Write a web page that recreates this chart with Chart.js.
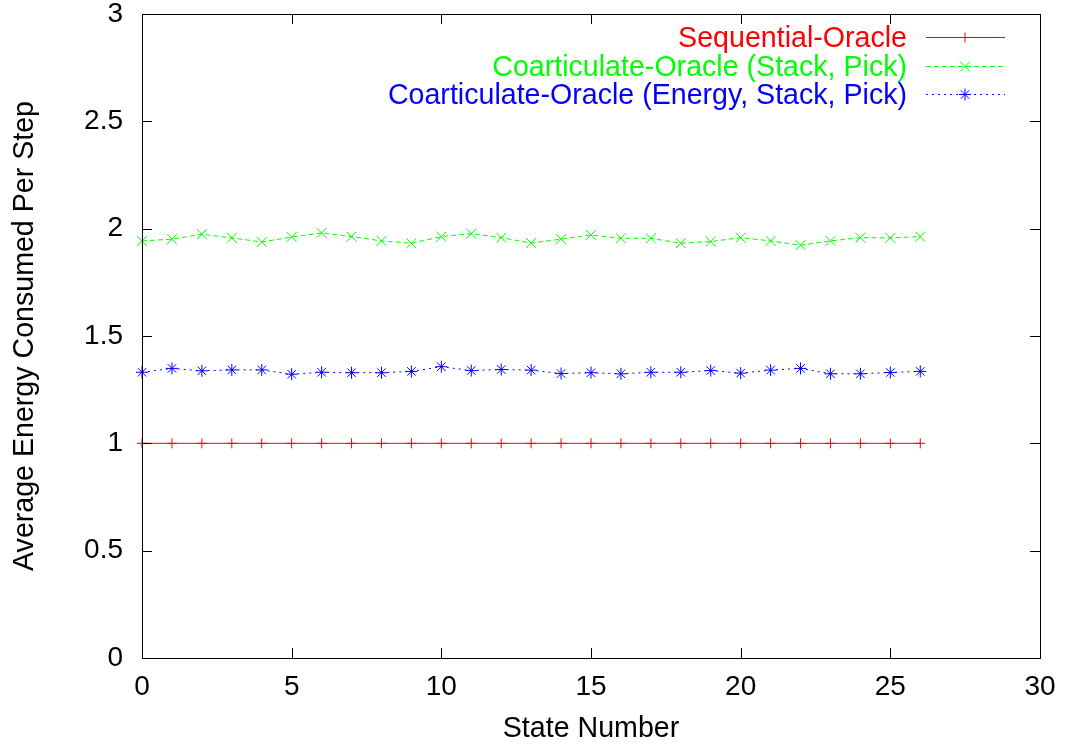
<!DOCTYPE html>
<html>
<head>
<meta charset="utf-8">
<title>Average Energy Consumed Per Step</title>
<script src="https://cdn.jsdelivr.net/npm/chart.js@4.4.1/dist/chart.umd.min.js"></script>
<style>
  html, body { margin: 0; padding: 0; background: #ffffff; }
  #wrap { width: 1068px; height: 748px; }
</style>
</head>
<body>
<div id="wrap"><canvas id="c" width="1068" height="748"></canvas></div>
<script>
// State numbers along the x axis
const stateNumbers = [0, 1, 2, 3, 4, 5, 6, 7, 8, 9, 10, 11, 12, 13, 14, 15, 16, 17, 18, 19, 20, 21, 22, 23, 24, 25, 26];

// Average energy consumed per step for each policy
const sequentialOracle = [1, 1, 1, 1, 1, 1, 1, 1, 1, 1, 1, 1, 1, 1, 1, 1, 1, 1, 1, 1, 1, 1, 1, 1, 1, 1, 1];
const coartStackPick = [1.943, 1.951, 1.974, 1.957, 1.938, 1.961, 1.980, 1.963, 1.943, 1.932, 1.963, 1.977, 1.958, 1.933,
                        1.951, 1.971, 1.955, 1.955, 1.932, 1.940, 1.958, 1.943, 1.923, 1.943, 1.958, 1.957, 1.963];
const coartEnergyStackPick = [1.331, 1.349, 1.338, 1.342, 1.342, 1.322, 1.331, 1.329, 1.329, 1.335, 1.357, 1.339, 1.344, 1.341,
                              1.325, 1.329, 1.324, 1.331, 1.331, 1.339, 1.327, 1.341, 1.349, 1.324, 1.324, 1.330, 1.335];

// Series names
const seriesNames = [
  'Sequential-Oracle',
  'Coarticulate-Oracle (Stack, Pick)',
  'Coarticulate-Oracle (Energy, Stack, Pick)'
];

// Axis ticks
const xTicks = [0, 5, 10, 15, 20, 25, 30];
const yTicks = [0, 0.5, 1, 1.5, 2, 2.5, 3];

const FONT = '"Liberation Sans", Arial, Helvetica, sans-serif';

function toPoints(values) {
  return stateNumbers.map((s, i) => ({ x: s, y: values[i] }));
}

const seriesStyles = [
  { color: '#ff0000', dash: [], pointStyle: 'cross', radius: 5 },
  { color: '#00ff00', dash: [5, 3], pointStyle: 'crossRot', radius: 7 },
  { color: '#0000ff', dash: [2, 4], pointStyle: 'star', radius: 6 }
];
const seriesValues = [sequentialOracle, coartStackPick, coartEnergyStackPick];

const datasets = seriesValues.map((vals, i) => ({
  label: seriesNames[i],
  data: toPoints(vals),
  borderColor: seriesStyles[i].color,
  backgroundColor: seriesStyles[i].color,
  borderWidth: 1,
  borderDash: seriesStyles[i].dash,
  pointStyle: seriesStyles[i].pointStyle,
  pointRadius: seriesStyles[i].radius,
  pointBorderWidth: 1,
  pointBorderColor: seriesStyles[i].color,
  pointBackgroundColor: seriesStyles[i].color,
  tension: 0,
  clip: false
}));

// Draws a legend marker of the given style
function drawMarker(ctx, style, x, y, r) {
  ctx.beginPath();
  if (style === 'cross' || style === 'star') {
    ctx.moveTo(x - r, y); ctx.lineTo(x + r, y);
    ctx.moveTo(x, y - r); ctx.lineTo(x, y + r);
  }
  if (style === 'crossRot' || style === 'star') {
    const d = r * Math.SQRT1_2;
    ctx.moveTo(x - d, y - d); ctx.lineTo(x + d, y + d);
    ctx.moveTo(x - d, y + d); ctx.lineTo(x + d, y - d);
  }
  ctx.stroke();
}

// Frame, inward tick marks on all four sides, and the key in the top right corner
const framePlugin = {
  id: 'frame',
  afterDatasetsDraw(chart) {
    const { ctx, chartArea: a, scales } = chart;
    const len = 10;
    ctx.save();
    ctx.strokeStyle = '#000000';
    ctx.lineWidth = 1;
    ctx.setLineDash([]);
    ctx.beginPath();
    xTicks.forEach(v => {
      const px = Math.round(scales.x.getPixelForValue(v)) + 0.5;
      ctx.moveTo(px, a.bottom); ctx.lineTo(px, a.bottom - len);
      ctx.moveTo(px, a.top); ctx.lineTo(px, a.top + len);
    });
    yTicks.forEach(v => {
      const py = Math.round(scales.y.getPixelForValue(v)) + 0.5;
      ctx.moveTo(a.left, py); ctx.lineTo(a.left + len, py);
      ctx.moveTo(a.right, py); ctx.lineTo(a.right - len, py);
    });
    ctx.stroke();
    ctx.strokeRect(Math.round(a.left) + 0.5, Math.round(a.top) + 0.5,
                   Math.round(a.right - a.left), Math.round(a.bottom - a.top));

    // key
    const textRight = 907;
    const lineX0 = 926, lineX1 = 1005, markX = 965;
    const baselines = [47, 75.5, 104];
    ctx.font = '28.6px ' + FONT;
    ctx.textAlign = 'right';
    ctx.textBaseline = 'alphabetic';
    seriesNames.forEach((name, i) => {
      const st = seriesStyles[i];
      const yb = baselines[i];
      const ym = Math.round(yb - 10) + 0.5;
      ctx.fillStyle = st.color;
      ctx.fillText(name, textRight, yb);
      ctx.strokeStyle = st.color;
      ctx.lineWidth = 1;
      ctx.setLineDash(st.dash);
      ctx.beginPath();
      ctx.moveTo(lineX0, ym); ctx.lineTo(lineX1, ym);
      ctx.stroke();
      ctx.setLineDash([]);
      drawMarker(ctx, st.pointStyle, markX, ym, st.radius);
    });
    ctx.restore();
  }
};

new Chart(document.getElementById('c'), {
  type: 'line',
  data: { datasets },
  options: {
    responsive: false,
    devicePixelRatio: 1,
    animation: false,
    layout: { padding: { top: 14, right: 28, left: 0, bottom: 0 } },
    plugins: {
      legend: { display: false },
      tooltip: { enabled: false }
    },
    scales: {
      x: {
        type: 'linear',
        min: 0,
        max: 30,
        afterBuildTicks(scale) { scale.ticks = xTicks.map(v => ({ value: v })); },
        ticks: {
          color: '#000000',
          font: { family: FONT, size: 28 },
          padding: 12,
          maxRotation: 0,
          callback: v => String(v)
        },
        grid: { display: false, drawTicks: false },
        border: { display: false },
        title: {
          display: true,
          text: 'State Number',
          color: '#000000',
          font: { family: FONT, size: 28.6 },
          padding: { top: 0, bottom: 2 }
        },
        afterFit(scale) {
          scale.height = 90;
          scale.paddingLeft = 0;
          scale.paddingRight = 0;
        }
      },
      y: {
        type: 'linear',
        min: 0,
        max: 3,
        afterBuildTicks(scale) { scale.ticks = yTicks.map(v => ({ value: v })); },
        ticks: {
          color: '#000000',
          font: { family: FONT, size: 28 },
          padding: 19,
          callback: v => String(v)
        },
        grid: { display: false, drawTicks: false },
        border: { display: false },
        title: {
          display: true,
          text: 'Average Energy Consumed Per Step',
          color: '#000000',
          font: { family: FONT, size: 28.6 },
          padding: { top: 8, bottom: 0 }
        },
        afterFit(scale) {
          scale.width = 142;
          scale.paddingTop = 0;
          scale.paddingBottom = 0;
        }
      }
    }
  },
  plugins: [framePlugin]
});
</script>
</body>
</html>
